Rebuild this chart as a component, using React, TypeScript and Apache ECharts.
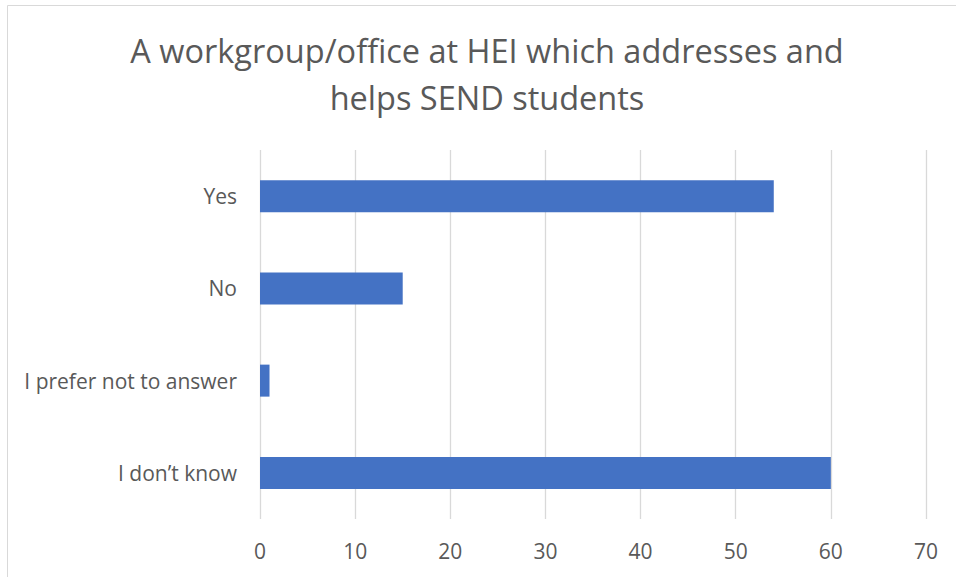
import React, { useEffect, useRef } from "react";
import * as echarts from "echarts";

const categories = ["I don\u2019t know", "I prefer not to answer", "No", "Yes"];
const values = [60, 1, 15, 54];
const titleLines = ["A workgroup/office at HEI which addresses and", "helps SEND students"];

const FONT = "'Open Sans', 'Liberation Sans', sans-serif";
const TEXT = "#595959";

export default function App() {
  const ref = useRef<HTMLDivElement>(null);
  useEffect(() => {
    const chart = echarts.init(ref.current!, null, { renderer: "svg" });
    chart.setOption({
      animation: false,
      graphic: [
        {
          type: "rect",
          shape: { x: 7.5, y: 5.5, width: 1200, height: 1200 },
          style: { fill: "none", stroke: "#d9d9d9", lineWidth: 1 },
          silent: true,
        },
        {
          type: "text",
          x: 487,
          y: 73.5,
          style: {
            text: titleLines.join("\n"),
            font: `32.5px ${FONT}`,
            fill: TEXT,
            textAlign: "center",
            textVerticalAlign: "middle",
            lineHeight: 47,
          },
        },
      ],
      grid: { left: 260, right: 30, top: 150, bottom: 58, containLabel: false },
      xAxis: {
        type: "value",
        min: 0,
        max: 70,
        interval: 10,
        axisLine: { show: false },
        axisTick: { show: false },
        splitLine: { lineStyle: { color: "#d9d9d9", width: 1.3 } },
        axisLabel: { color: TEXT, fontSize: 21, fontFamily: FONT, margin: 21 },
      },
      yAxis: {
        type: "category",
        data: categories,
        axisLine: { show: false },
        axisTick: { show: false },
        axisLabel: { color: TEXT, fontSize: 21, fontFamily: FONT, margin: 23 },
      },
      series: [
        {
          type: "bar",
          data: values,
          barWidth: 32,
          itemStyle: { color: "#4472C4" },
        },
      ],
    });
    return () => chart.dispose();
  }, []);
  return (
    <div
      ref={ref}
      style={{ position: "fixed", left: 0, top: 0, width: 956, height: 577, background: "#fff" }}
    />
  );
}
